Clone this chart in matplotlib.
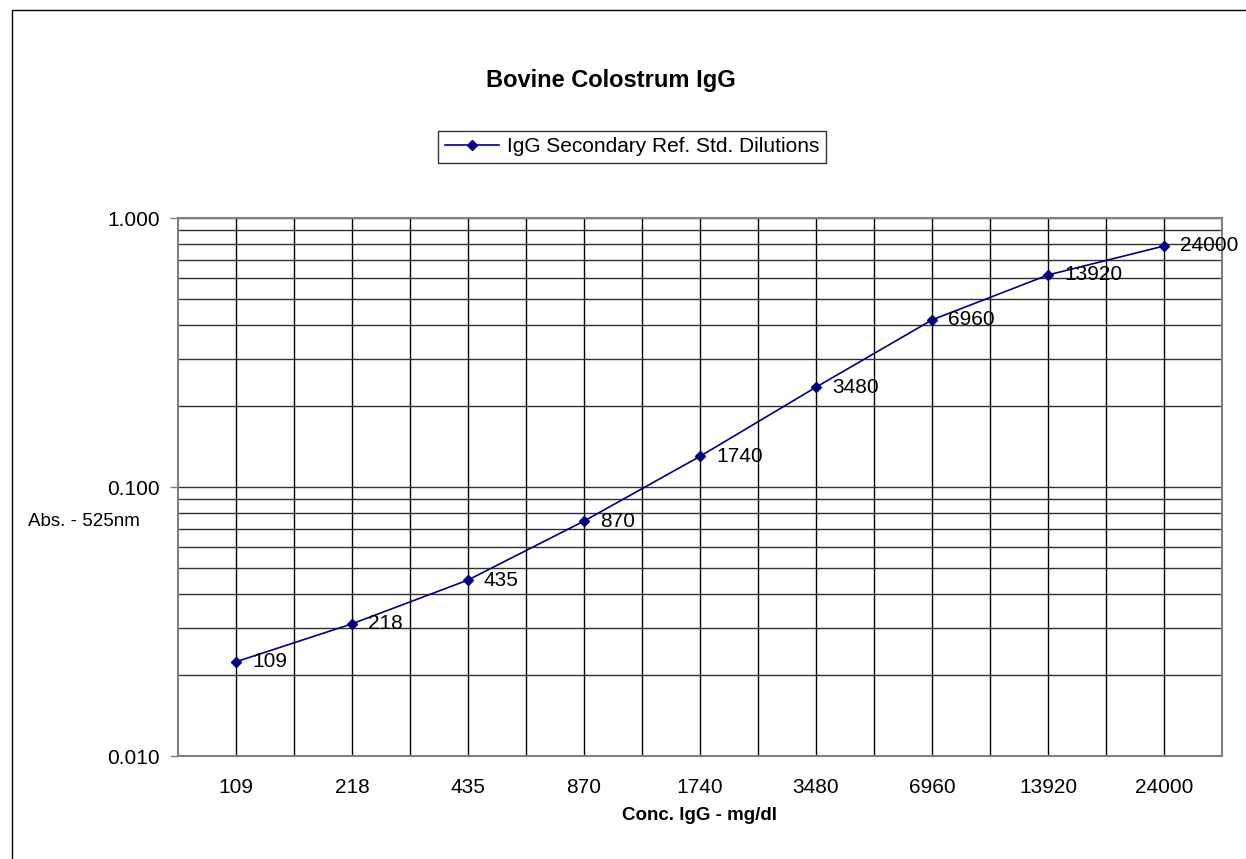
import matplotlib.pyplot as plt
from matplotlib.patches import Rectangle
from matplotlib.ticker import FixedLocator, LogLocator, NullFormatter

plt.rcParams["font.family"] = ["Liberation Sans", "DejaVu Sans"]

# data
concentrations = ["109", "218", "435", "870", "1740", "3480", "6960", "13920", "24000"]
absorbance = [0.0224, 0.031, 0.0451, 0.0747, 0.130, 0.235, 0.418, 0.614, 0.787]
y_ticks = [0.01, 0.1, 1.0]
y_tick_labels = ["0.010", "0.100", "1.000"]

W, H = 1246, 859
fig = plt.figure(figsize=(W / 100, H / 100), dpi=100)
ax = fig.add_axes([178 / W, 1 - 756 / H, 1044 / W, 538 / H])

x = list(range(len(concentrations)))
ax.plot(x, absorbance, color="#000080", lw=1.2, marker="D", ms=5.5,
        markerfacecolor="#000080", markeredgecolor="#000080",
        label="IgG Secondary Ref. Std. Dilutions", zorder=3)

for xi, yi, lab in zip(x, absorbance, concentrations):
    ax.annotate(lab, (xi, yi), xytext=(16, 0), textcoords="offset pixels",
                ha="left", va="center", fontsize=15, color="black",
                annotation_clip=False, zorder=4)

ax.set_yscale("log")
ax.set_ylim(0.01, 1.0)
ax.set_xlim(-0.5, len(concentrations) - 0.5)

ax.set_yticks(y_ticks)
ax.set_yticklabels(y_tick_labels)
ax.yaxis.set_minor_locator(LogLocator(base=10, subs=range(2, 10)))
ax.yaxis.set_minor_formatter(NullFormatter())
ax.tick_params(axis="y", which="major", length=6, width=1, color="#808080",
               labelsize=15, pad=7)
ax.tick_params(axis="y", which="minor", length=0)

ax.set_xticks(x)
ax.set_xticklabels(concentrations)
ax.xaxis.set_minor_locator(FixedLocator([i + 0.5 for i in x]))
ax.tick_params(axis="x", which="both", length=0, labelsize=15, pad=16)

ax.grid(True, which="both", axis="y", color="#303030", lw=1)
ax.grid(True, which="both", axis="x", color="black", lw=1)
ax.set_axisbelow(True)
for s in ax.spines.values():
    s.set_color("#808080")
    s.set_linewidth(1.5)

ax.set_xlabel("Conc. IgG - mg/dl", fontsize=13.5, fontweight="bold", labelpad=7)
fig.text(28 / W, 1 - 522 / H, "Abs. - 525nm", fontsize=13.5, ha="left", va="center")

fig.text(611 / W, 1 - 80 / H, "Bovine Colostrum IgG", fontsize=17,
         fontweight="bold", ha="center", va="center")

leg = ax.legend(loc="center", bbox_to_anchor=(632 / W, 1 - 147 / H),
                bbox_transform=fig.transFigure, fontsize=15, frameon=True,
                fancybox=False, edgecolor="black", handlelength=2.6,
                borderpad=0.3, handletextpad=0.4)
leg.get_frame().set_linewidth(1)

# chart area border (cropped on right and bottom)
fig.patches.append(Rectangle((12 / W, -0.05), 1.2, 1.05 - 10 / H,
                             transform=fig.transFigure, fill=False,
                             edgecolor="black", lw=1))

fig.savefig("out.png", dpi=100)
